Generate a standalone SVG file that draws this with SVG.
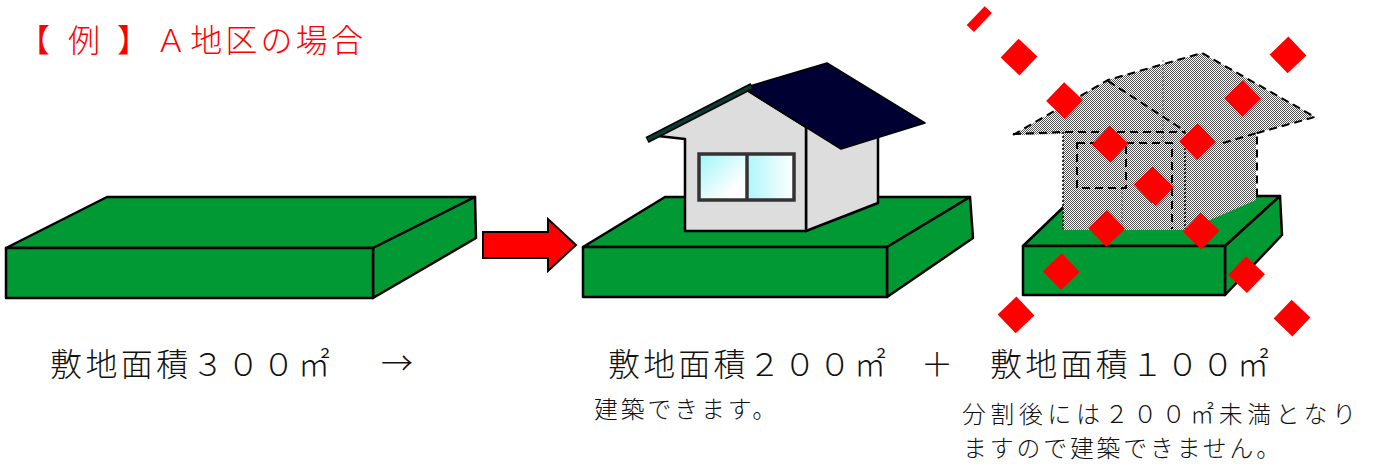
<svg xmlns="http://www.w3.org/2000/svg" width="1373" height="464" viewBox="0 0 1373 464">
  <defs>
    <style>
      .slab { fill: #009933; stroke: #000; stroke-width: 2.5; stroke-linejoin: round; }
      .wall { fill: #dddddd; stroke: #000; stroke-width: 2.5; stroke-linejoin: round; }
      .ghost { fill: url(#stipple); stroke: none; }
      .dash { fill: none; stroke: #000; stroke-width: 2; stroke-dasharray: 8 5; }
      .fine { fill: none; stroke: #000; stroke-width: 1.5; stroke-dasharray: 2 2; }
      .label { font-family: "Noto Sans CJK JP", "Noto Sans CJK SC", sans-serif; font-size: 32px; fill: #111; font-weight: 300; }
      .note { font-family: "Noto Sans CJK JP", "Noto Sans CJK SC", sans-serif; font-size: 23.8px; fill: #111; font-weight: 300; }
      .title { font-family: "Noto Sans CJK JP", "Noto Sans CJK SC", sans-serif; font-size: 32px; fill: #ff0000; font-weight: 300; }
      .cross { fill: none; stroke: #ff0000; stroke-width: 26; }
    </style>
    <pattern id="stipple" width="2" height="2" patternUnits="userSpaceOnUse">
      <rect width="2" height="2" fill="#ffffff"/>
      <rect width="1" height="1" fill="#555555"/>
      <rect x="1" y="1" width="1" height="1" fill="#555555"/>
    </pattern>
    <linearGradient id="glass" x1="0" y1="0" x2="1" y2="1">
      <stop offset="0" stop-color="#9ff5f8"/>
      <stop offset="0.75" stop-color="#ffffff"/>
    </linearGradient>
    <linearGradient id="glass2" x1="0" y1="0" x2="1" y2="0">
      <stop offset="0" stop-color="#aef6f9"/>
      <stop offset="1" stop-color="#ffffff"/>
    </linearGradient>
  </defs>

  <!-- heading -->
  <g id="title" class="title">
    <text x="18" y="52">【</text>
    <text x="68" y="52">例</text>
    <text x="117" y="52">】</text>
    <text x="155" y="52" textLength="208" lengthAdjust="spacing">Ａ地区の場合</text>
  </g>

  <!-- plot before division: 300 m2 -->
  <g id="plot-300">
    <polygon class="slab" points="6,248 107,197 475,197 373,248"/>
    <polygon class="slab" points="373,248 475,197 476,238 373,298"/>
    <rect class="slab" x="6" y="248" width="367" height="50"/>
  </g>

  <!-- division arrow -->
  <g id="connectors">
    <polygon points="483,232 548,232 548,219 576,245 548,271 548,258 483,258" fill="#ff0000" stroke="#000" stroke-width="2"/>
  </g>

  <!-- plot after division: 200 m2 with a house -->
  <g id="plot-200">
    <polygon class="slab" points="583,247 665,197 970,197 887,247"/>
    <polygon class="slab" points="887,247 970,197 973,238 887,297"/>
    <rect class="slab" x="583" y="247" width="304" height="50"/>
  </g>

  <g id="house">
    <polygon class="wall" points="806,231 806,127 878,127 878,203"/>
    <polygon class="wall" points="685,231 685,139 658,136 747,90 806,127 806,231"/>
    <!-- window -->
    <rect x="699" y="154" width="48" height="46" fill="url(#glass)"/>
    <rect x="747" y="154" width="47" height="46" fill="url(#glass2)"/>
    <rect x="699" y="154" width="95" height="46" fill="none" stroke="#333" stroke-width="3.5"/>
    <line x1="747" y1="154" x2="747" y2="200" stroke="#333" stroke-width="3.5"/>
    <!-- roof -->
    <polygon points="743,88 827,63 925,123 841,149" fill="#000033" stroke="#000" stroke-width="1.5" stroke-linejoin="round"/>
    <line x1="647" y1="140" x2="752" y2="86" stroke="#000" stroke-width="6.5"/>
    <line x1="648" y1="139.5" x2="751" y2="86.5" stroke="#0b3d38" stroke-width="3.5"/>
  </g>

  <!-- plot after division: 100 m2 (not buildable) -->
  <g id="plot-100">
    <polygon class="slab" points="1023,246 1075,196 1280,196 1225,246"/>
    <polygon class="slab" points="1225,246 1280,196 1282,235 1225,295"/>
    <rect class="slab" x="1023" y="246" width="202" height="49"/>
  </g>

  <g id="ghost-house">
    <polygon class="ghost" points="1013,135 1108,80 1202,53 1315,117 1256,133 1256,200 1187,230 1063,230 1063,134"/>
    <polyline class="dash" points="1013,135 1108,80 1202,53 1315,117 1250,135"/>
    <polyline class="dash" points="1013,134 1063,132 1185,132"/>
    <line class="dash" x1="1108" y1="81" x2="1185" y2="131"/>
    <polyline class="dash" points="1223,143 1257,133 1257,199"/>
    <line class="fine" x1="1063" y1="132" x2="1063" y2="229"/>
    <line class="fine" x1="1185" y1="132" x2="1185" y2="229"/>
    <rect class="dash" x="1077" y="143" width="49" height="45"/>
    <polyline class="dash" points="1126,143 1172,143 1172,229"/>
    <line class="fine" x1="1163" y1="60" x2="1163" y2="143" stroke-opacity="0.35"/>
    <line class="fine" x1="1122" y1="188" x2="1122" y2="229" stroke-opacity="0.35"/>
  </g>

  <g id="cross-out">
    <line class="cross" x1="975.7" y1="15.6" x2="1301.4" y2="327" stroke-dasharray="26 36.95" stroke-dashoffset="16"/>
    <line class="cross" x1="1297.4" y1="46" x2="1006.6" y2="324" stroke-dasharray="26 36.71"/>
  </g>

  <!-- area labels -->
  <g id="labels">
    <text class="label" x="50" y="376" textLength="280" lengthAdjust="spacing">敷地面積３００㎡</text>
    <text class="label" x="397" y="375" text-anchor="middle">→</text>
    <text class="label" x="608" y="376" textLength="278" lengthAdjust="spacing">敷地面積２００㎡</text>
    <text class="label" x="937" y="376" text-anchor="middle">＋</text>
    <text class="label" x="990" y="376" textLength="279" lengthAdjust="spacing">敷地面積１００㎡</text>
    <text class="note" x="594" y="418" textLength="182" lengthAdjust="spacing">建築できます。</text>
    <text class="note" x="962" y="422.6" textLength="394" lengthAdjust="spacing">分割後には２００㎡未満となり</text>
    <text class="note" x="963" y="457.1" textLength="317" lengthAdjust="spacing">ますので建築できません。</text>
  </g>
</svg>
